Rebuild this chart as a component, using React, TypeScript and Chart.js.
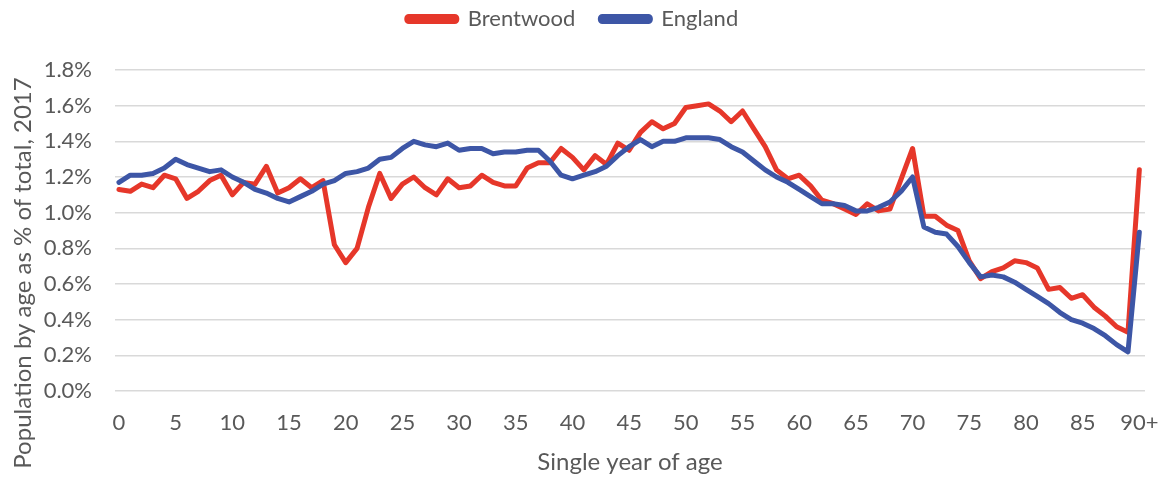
import React, { useEffect, useRef } from 'react';
import { Chart, registerables } from 'chart.js';

Chart.register(...registerables);

const AGES: number[] = Array.from({ length: 91 }, (_, i) => i);

const BRENTWOOD: number[] = [
  1.13, 1.12, 1.16, 1.14, 1.21, 1.19, 1.08, 1.12, 1.18, 1.21,
  1.10, 1.17, 1.16, 1.26, 1.11, 1.14, 1.19, 1.14, 1.18, 0.82,
  0.72, 0.80, 1.03, 1.22, 1.08, 1.16, 1.20, 1.14, 1.10, 1.19,
  1.14, 1.15, 1.21, 1.17, 1.15, 1.15, 1.25, 1.28, 1.28, 1.36,
  1.31, 1.24, 1.32, 1.27, 1.39, 1.35, 1.45, 1.51, 1.47, 1.50,
  1.59, 1.60, 1.61, 1.57, 1.51, 1.57, 1.47, 1.37, 1.24, 1.19,
  1.21, 1.15, 1.07, 1.05, 1.02, 0.99, 1.05, 1.01, 1.02, 1.19,
  1.36, 0.98, 0.98, 0.93, 0.90, 0.73, 0.63, 0.67, 0.69, 0.73,
  0.72, 0.69, 0.57, 0.58, 0.52, 0.54, 0.47, 0.42, 0.36, 0.33,
  1.24,
];

const ENGLAND: number[] = [
  1.17, 1.21, 1.21, 1.22, 1.25, 1.30, 1.27, 1.25, 1.23, 1.24,
  1.20, 1.17, 1.13, 1.11, 1.08, 1.06, 1.09, 1.12, 1.16, 1.18,
  1.22, 1.23, 1.25, 1.30, 1.31, 1.36, 1.40, 1.38, 1.37, 1.39,
  1.35, 1.36, 1.36, 1.33, 1.34, 1.34, 1.35, 1.35, 1.29, 1.21,
  1.19, 1.21, 1.23, 1.26, 1.32, 1.37, 1.41, 1.37, 1.40, 1.40,
  1.42, 1.42, 1.42, 1.41, 1.37, 1.34, 1.29, 1.24, 1.20, 1.17,
  1.13, 1.09, 1.05, 1.05, 1.04, 1.01, 1.01, 1.03, 1.06, 1.12,
  1.20, 0.92, 0.89, 0.88, 0.81, 0.72, 0.64, 0.65, 0.64, 0.61,
  0.57, 0.53, 0.49, 0.44, 0.40, 0.38, 0.35, 0.31, 0.26, 0.22,
  0.89,
];

const X_TICKS: number[] = [0, 5, 10, 15, 20, 25, 30, 35, 40, 45, 50, 55, 60, 65, 70, 75, 80, 85, 90];
const X_TICK_LABELS: string[] = ['0', '5', '10', '15', '20', '25', '30', '35', '40', '45', '50', '55', '60', '65', '70', '75', '80', '85', '90+'];
const Y_TICKS: number[] = [0, 0.2, 0.4, 0.6, 0.8, 1.0, 1.2, 1.4, 1.6, 1.8];

const SERIES_NAMES = ['Brentwood', 'England'];
const Y_TITLE = 'Population by age as % of total, 2017';
const X_TITLE = 'Single year of age';

const FONT = 'Lato, "Open Sans", sans-serif';
const TEXT = '#595959';
const RED = '#E6372A';
const BLUE = '#3D56A6';

export default function App() {
  const ref = useRef<HTMLCanvasElement | null>(null);

  useEffect(() => {
    document.body.style.margin = '0';
    const canvas = ref.current;
    if (!canvas) return;

    const yTitlePlugin = {
      id: 'yTitle',
      afterDraw(chart: any) {
        const ctx = chart.ctx;
        ctx.save();
        ctx.translate(23, 273);
        ctx.rotate(-Math.PI / 2);
        ctx.fillStyle = TEXT;
        ctx.font = `24px ${FONT}`;
        ctx.textAlign = 'center';
        ctx.textBaseline = 'middle';
        ctx.fillText(Y_TITLE, 0, 0);
        ctx.restore();
      },
    };

    const chart = new Chart(canvas, {
      type: 'line',
      data: {
        datasets: [
          {
            label: SERIES_NAMES[0],
            data: AGES.map((a, i) => ({ x: a, y: BRENTWOOD[i] })),
            borderColor: RED,
            backgroundColor: RED,
            borderWidth: 5,
            pointRadius: 0,
            tension: 0,
            borderJoinStyle: 'round',
            borderCapStyle: 'round',
            order: 1,
          },
          {
            label: SERIES_NAMES[1],
            data: AGES.map((a, i) => ({ x: a, y: ENGLAND[i] })),
            borderColor: BLUE,
            backgroundColor: BLUE,
            borderWidth: 5,
            pointRadius: 0,
            tension: 0,
            borderJoinStyle: 'round',
            borderCapStyle: 'round',
            order: 0,
          },
        ],
      },
      options: {
        animation: false,
        responsive: false,
        devicePixelRatio: 1,
        layout: { padding: { left: 0, right: 17, top: -17, bottom: 0 } },
        plugins: {
          legend: {
            position: 'top',
            labels: {
              font: { family: FONT, size: 22 },
              color: TEXT,
              boxWidth: 50,
              boxHeight: 5,
              padding: 25,
              useBorderRadius: true,
              borderRadius: 2,
              sort: (a: any, b: any) => a.datasetIndex - b.datasetIndex,
            },
          },
          tooltip: { enabled: false },
        },
        scales: {
          x: {
            type: 'linear',
            min: -0.35,
            max: 90.5,
            afterBuildTicks: (s: any) => {
              s.ticks = X_TICKS.map((v) => ({ value: v }));
            },
            afterFit: (s: any) => {
              s.height = 89;
              s.paddingLeft = 0;
              s.paddingRight = 0;
            },
            grid: { display: false },
            border: { display: false },
            ticks: {
              autoSkip: false,
              maxRotation: 0,
              minRotation: 0,
              padding: 11,
              color: TEXT,
              font: { family: FONT, size: 22 },
              callback: (v: any) => {
                const idx = X_TICKS.indexOf(Number(v));
                return idx >= 0 ? X_TICK_LABELS[idx] : '';
              },
            },
            title: {
              display: true,
              text: X_TITLE,
              color: TEXT,
              font: { family: FONT, size: 24 },
              padding: { top: 0, bottom: 3 },
            },
          },
          y: {
            min: 0,
            max: 1.8,
            afterBuildTicks: (s: any) => {
              s.ticks = Y_TICKS.map((v) => ({ value: v }));
            },
            afterFit: (s: any) => {
              s.width = 115;
            },
            grid: { color: '#D9D9D9', lineWidth: 1.5, drawTicks: false },
            border: { display: false },
            ticks: {
              padding: 23,
              color: TEXT,
              font: { family: FONT, size: 22 },
              callback: (v: any) => Number(v).toFixed(1) + '%',
            },
          },
        },
      },
      plugins: [yTitlePlugin],
    } as any);

    const legend: any = (chart as any).legend;
    if (legend) {
      const origUpdate = legend.update.bind(legend);
      legend.update = function (...args: any[]) {
        origUpdate(...args);
        this.height = 87;
      };
      chart.update();
    }

    return () => {
      chart.destroy();
    };
  }, []);

  return (
    <div style={{ width: 1162, height: 480 }}>
      <canvas ref={ref} width={1162} height={480} />
    </div>
  );
}
